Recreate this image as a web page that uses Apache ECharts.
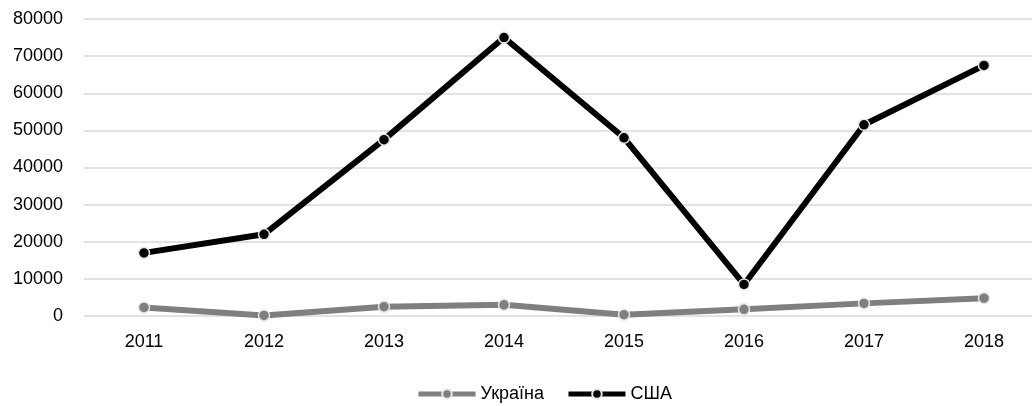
<!DOCTYPE html>
<html>
<head>
<meta charset="utf-8">
<script src="https://cdn.jsdelivr.net/npm/echarts@6/dist/echarts.min.js"></script>
<style>
  html, body { margin: 0; padding: 0; background: #fff; overflow: hidden; }
  /* plot area runs past the right edge in the source picture */
  #chart { width: 1044px; height: 406px; }
</style>
</head>
<body>
<div id="chart"></div>
<script>
const years = ['2011', '2012', '2013', '2014', '2015', '2016', '2017', '2018']
const ukraine = [2300, 150, 2500, 3000, 350, 1800, 3400, 4800]
const usa = [17000, 22000, 47500, 75000, 48000, 8500, 51500, 67500]
const yTicks = { min: 0, max: 80000, interval: 10000 }

const font = 'Liberation Sans, Arial, sans-serif'
const chart = echarts.init(document.getElementById('chart'))

const lineSeries = (name, data, color) => ({
  name,
  type: 'line',
  data,
  symbol: 'circle',
  symbolSize: 11,
  lineStyle: { width: 6, color },
  itemStyle: { color, borderColor: '#e6e6e6', borderWidth: 1.5 },
  emphasis: { disabled: true }
})

chart.setOption({
  animation: false,
  textStyle: { fontFamily: font },
  grid: { left: 84, right: 0, top: 19, bottom: 90 },
  legend: {
    top: 380,
    left: 411,
    itemWidth: 57,
    itemHeight: 12,
    itemGap: 22,
    lineStyle: { width: 5 },
    textStyle: { fontSize: 18, color: '#000', fontFamily: font },
    data: ['Україна', 'США']
  },
  xAxis: {
    type: 'category',
    data: years,
    axisLine: { show: false },
    axisTick: { show: false },
    axisLabel: { fontSize: 18, color: '#000', margin: 17, fontFamily: font }
  },
  yAxis: {
    type: 'value',
    min: yTicks.min,
    max: yTicks.max,
    interval: yTicks.interval,
    axisLabel: {
      fontSize: 18,
      color: '#000',
      margin: 21,
      fontFamily: font,
      formatter: (v) => String(v)
    },
    splitLine: { lineStyle: { color: '#d9d9d9', width: 1.5 } }
  },
  series: [
    lineSeries('Україна', ukraine, '#7f7f7f'),
    lineSeries('США', usa, '#000000')
  ]
})
</script>
</body>
</html>
